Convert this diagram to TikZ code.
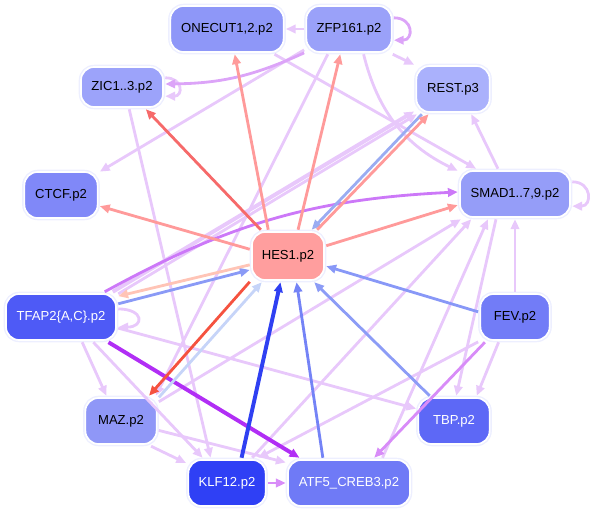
\documentclass[tikz,border=0pt]{standalone}
\usepackage{fontspec}
\setmainfont{Liberation Sans}
\usetikzlibrary{arrows.meta}

\begin{document}
\begin{tikzpicture}[x=0.025cm, y=-0.025cm,
    gene/.style={rectangle, rounded corners=0.33cm, minimum height=1.15cm, inner sep=0pt,
        outer sep=1.6pt, font=\fontsize{9.3}{11}\selectfont, draw=white, line width=1.2pt,
        preaction={draw=ringColour, line width=3.2pt}},
    edge/.style={line width=2pt, -{Triangle[length=7pt,width=6pt]}},
    heavy/.style={line width=2.8pt}]
    % Define colours
    \definecolor{ringColour}{HTML}{EDEFFF}
    \definecolor{onecutColour}{HTML}{8E97F8}
    \definecolor{zfpColour}{HTML}{9AA1F9}
    \definecolor{zicColour}{HTML}{9CA3FA}
    \definecolor{restColour}{HTML}{AAB1FC}
    \definecolor{ctcfColour}{HTML}{8088F8}
    \definecolor{smadColour}{HTML}{959DF8}
    \definecolor{hesColour}{HTML}{FF9E9E}
    \definecolor{tfapColour}{HTML}{4E5AF6}
    \definecolor{fevColour}{HTML}{727CF7}
    \definecolor{mazColour}{HTML}{8F97F7}
    \definecolor{tbpColour}{HTML}{5D68F6}
    \definecolor{klfColour}{HTML}{2F40F5}
    \definecolor{atfColour}{HTML}{6F7AF6}
    \definecolor{salmonColour}{HTML}{FF9A9A}
    \definecolor{redColour}{HTML}{F66A6A}
    \definecolor{darkRedColour}{HTML}{F5523F}
    \definecolor{paleSalmonColour}{HTML}{FFC4B6}
    \definecolor{klfEdgeColour}{HTML}{2F40F2}
    \definecolor{atfEdgeColour}{HTML}{7483F6}
    \definecolor{fevEdgeColour}{HTML}{8898F7}
    \definecolor{tbpEdgeColour}{HTML}{8C9CF6}
    \definecolor{tfapEdgeColour}{HTML}{8A9AF6}
    \definecolor{restEdgeColour}{HTML}{9AACF2}
    \definecolor{mazEdgeColour}{HTML}{C6D4F8}
    \definecolor{darkVioletColour}{HTML}{B12EF5}
    \definecolor{violetColour}{HTML}{CC78F8}
    \definecolor{midVioletColour}{HTML}{D88CF8}
    \definecolor{softVioletColour}{HTML}{DCA4F8}
    \definecolor{lavenderColour}{HTML}{E8C8FB}

    \useasboundingbox (0,0) rectangle (599,512);

    % Draw genes
    \node[gene, fill=onecutColour, minimum width=2.83cm] (ONECUT) at (227,29) {ONECUT1,2.p2};
    \node[gene, fill=zfpColour, minimum width=2.13cm] (ZFP161) at (349,29) {ZFP161.p2};
    \node[gene, fill=zicColour, minimum width=2.05cm, minimum height=1.0cm] (ZIC) at (122,87) {ZIC1..3.p2};
    \node[gene, fill=restColour, minimum width=1.83cm] (REST) at (453,89) {REST.p3};
    \node[gene, fill=ctcfColour, minimum width=1.83cm] (CTCF) at (61,195) {CTCF.p2};
    \node[gene, fill=smadColour, minimum width=2.75cm] (SMAD) at (515,194) {SMAD1..7,9.p2};
    \node[gene, fill=hesColour, minimum width=1.8cm, minimum height=1.2cm] (HES1) at (288,256) {HES1.p2};
    \node[gene, fill=tfapColour, text=white, minimum width=2.75cm] (TFAP2) at (61,317) {TFAP2\{A,C\}.p2};
    \node[gene, fill=fevColour, minimum width=1.73cm] (FEV) at (515,317) {FEV.p2};
    \node[gene, fill=mazColour, minimum width=1.78cm] (MAZ) at (121,421) {MAZ.p2};
    \node[gene, fill=tbpColour, text=white, minimum width=1.78cm] (TBP) at (454,421) {TBP.p2};
    \node[gene, fill=klfColour, text=white, minimum width=1.93cm] (KLF12) at (227,483) {KLF12.p2};
    \node[gene, fill=atfColour, text=white, minimum width=3.05cm] (ATF5) at (349,483) {ATF5\_CREB3.p2};

    % Draw lavender edges
    \foreach \src/\sa/\dst/\da in {ZFP161/180/ONECUT/0, ZFP161/-30/REST/148, ZFP161/205/CTCF/31,
        ONECUT/-28/SMAD/147, ZFP161/-130/MAZ/36, ZIC/-72/KLF12/123, TFAP2/-50/MAZ/120,
        TFAP2/-38/KLF12/134, TFAP2/-11/TBP/162, MAZ/-40/KLF12/154, MAZ/-14/ATF5/162,
        MAZ/27/SMAD/205, SMAD/124/REST/-54, SMAD/-127/TBP/85, FEV/90/SMAD/-90,
        FEV/-123/TBP/48, FEV/-146/KLF12/39, KLF12/45/SMAD/210, ATF5/37/SMAD/223}
        \draw[edge, lavenderColour] (\src.\sa) -- (\dst.\da);
    \draw[edge, heavy, lavenderColour] (TFAP2.26) -- (REST.-150);
    \draw[edge, lavenderColour] (TFAP2.22) -- (REST.-145);
    \draw[edge, lavenderColour] (ZFP161.-60) to[bend right=25] (SMAD.158);

    % Draw self loops
    \draw[edge, softVioletColour] (ZFP161.14) to[out=0, in=0, distance=0.5cm] (ZFP161.-14);
    \draw[edge, lavenderColour] (ZIC.12) to[out=0, in=0, distance=0.45cm] (ZIC.-12);
    \draw[edge, lavenderColour] (TFAP2.8) to[out=0, in=0, distance=0.65cm] (TFAP2.-10);
    \draw[edge, lavenderColour] (SMAD.12) to[out=0, in=0, distance=0.5cm] (SMAD.-12);

    % Draw violet edges
    \draw[edge, softVioletColour] (ZFP161.208) to[bend left=12] (ZIC.4);
    \draw[edge, violetColour] (TFAP2.30) to[bend left=13] (SMAD.178);
    \draw[edge, heavy, darkVioletColour] (TFAP2.-28) -- (ATF5.153);
    \draw[edge, midVioletColour] (KLF12) -- (ATF5);
    \draw[edge, midVioletColour] (FEV.-140) -- (ATF5.45);

    % Draw edges into HES1
    \draw[edge, restEdgeColour] (REST.-141) -- (HES1.48);
    \draw[edge, tfapEdgeColour] (TFAP2.13) -- (HES1.200);
    \draw[edge, mazEdgeColour] (MAZ.32) -- (HES1.-135);
    \draw[edge, heavy, klfEdgeColour] (KLF12.60) -- (HES1.-106);
    \draw[edge, atfEdgeColour] (ATF5.136) -- (HES1.-72);
    \draw[edge, tbpEdgeColour] (TBP.134) -- (HES1.-45);
    \draw[edge, fevEdgeColour] (FEV.172) -- (HES1.-15);

    % Draw edges out of HES1
    \draw[edge, salmonColour] (HES1.127) -- (ONECUT.-73);
    \draw[edge, salmonColour] (HES1.69) -- (ZFP161.-109);
    \draw[edge, redColour] (HES1.136) -- (ZIC.-43);
    \draw[edge, salmonColour] (HES1.170) -- (CTCF.-16);
    \draw[edge, salmonColour] (HES1.42) -- (REST.-134);
    \draw[edge, salmonColour] (HES1.15) -- (SMAD.191);
    \draw[edge, darkRedColour] (HES1.-146) -- (MAZ.42);
    \draw[edge, paleSalmonColour] (HES1.193) -- (TFAP2.20);

\end{tikzpicture}
\end{document}
